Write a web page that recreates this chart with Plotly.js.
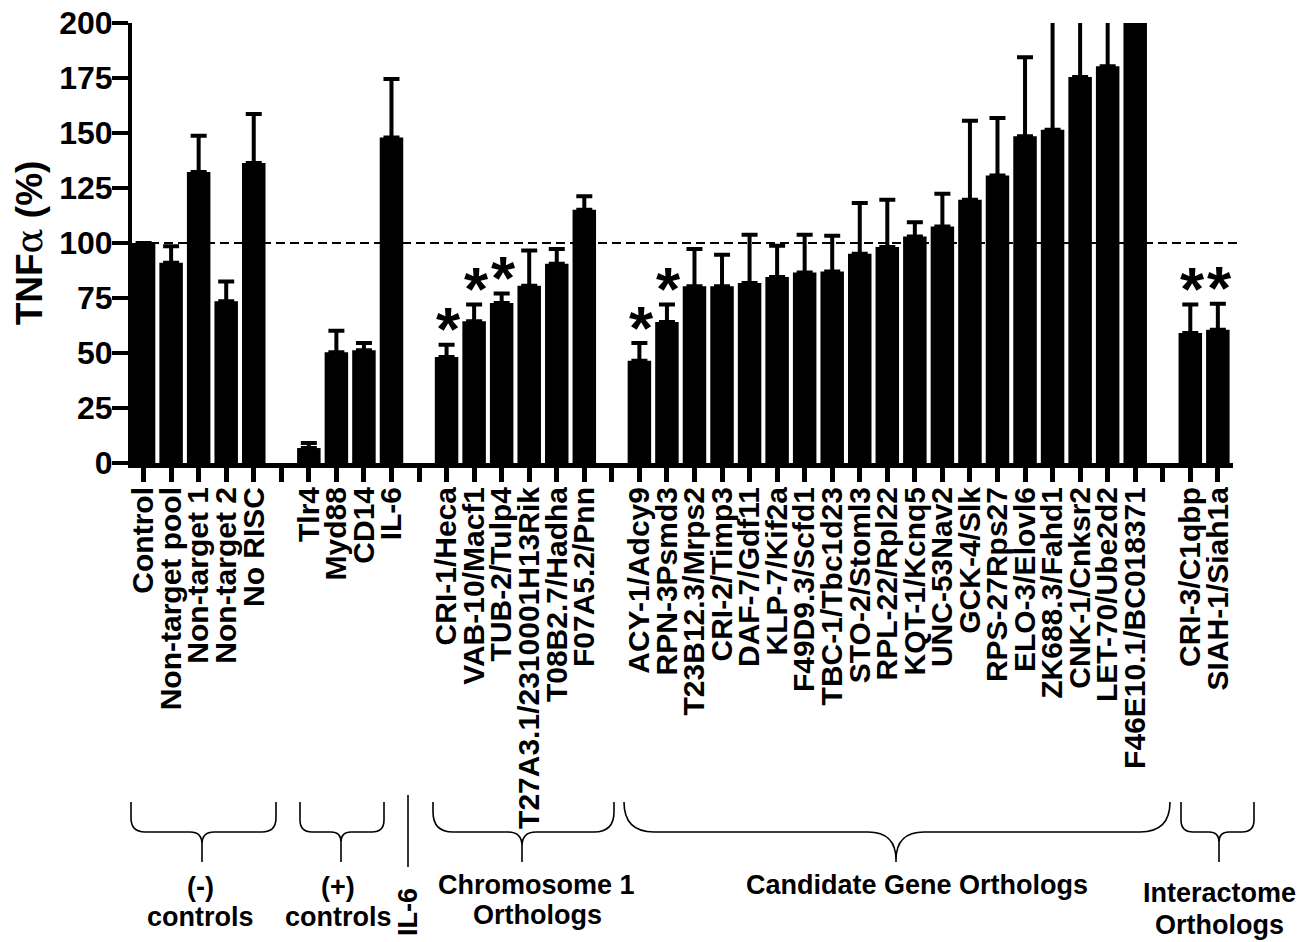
<!DOCTYPE html>
<html>
<head>
<meta charset="utf-8">
<script src="https://cdn.plot.ly/plotly-3.0.1.min.js"></script>
<style>html,body{margin:0;padding:0;background:#fff;}</style>
</head>
<body>
<div id="chart" style="width:1301px;height:942px;"></div>
<script>
// ---- data ----
const categories = ['Control','Non-target pool','Non-target 1','Non-target 2','No RISC','',
  'Tlr4','Myd88','CD14','IL-6','',
  'CRI-1/Heca','VAB-10/Macf1','TUB-2/Tulp4','T27A3.1/2310001H13Rik','T08B2.7/Hadha','F07A5.2/Pnn','',
  'ACY-1/Adcy9','RPN-3Psmd3','T23B12.3/Mrps2','CRI-2/Timp3','DAF-7/Gdf11','KLP-7/Kif2a','F49D9.3/Scfd1',
  'TBC-1/Tbc1d23','STO-2/Stoml3','RPL-22/Rpl22','KQT-1/Kcnq5','UNC-53Nav2','GCK-4/Slk','RPS-27Rps27',
  'ELO-3/Elovl6','ZK688.3/Fahd1','CNK-1/Cnksr2','LET-70/Ube2d2','F46E10.1/BC018371','',
  'CRI-3/C1qbp','SIAH-1/Siah1a'];
const tnfMean = [100, 91, 132.3, 73.5, 136.4, null,
  6.8, 50.3, 51.2, 148, null,
  48.2, 64.4, 72.7, 80.6, 90.6, 115.1, null,
  46.5, 64.1, 80.3, 80.3, 81.8, 84.5, 86.6,
  87.1, 95.1, 98.2, 103, 107.5, 119.7, 130.7,
  148.5, 151.5, 175.4, 180.3, 220, null,
  59.1, 60.6];
const tnfErr = [0, 7.5, 16.5, 9, 22.2, null,
  2.3, 9.8, 3.3, 26.5, null,
  5.6, 7.6, 4.3, 16, 6.7, 6.1, null,
  8, 7.9, 17, 14.4, 22, 14.3, 17.2,
  16.2, 23.1, 21.5, 6.4, 14.9, 35.9, 26.1,
  35.9, 60, 40, 40, 40, null,
  12.9, 11.8];
const significant = [false,false,false,false,false,false,
  false,false,false,false,false,
  true,true,true,false,false,false,false,
  true,true,false,false,false,false,false,
  false,false,false,false,false,false,false,
  false,false,false,false,false,false,
  true,true];
const yTicks = [0,25,50,75,100,125,150,175,200];
const referenceLevel = 100;
const groups = [
  {lines:['(-)','controls']},
  {lines:['(+)','controls']},
  {lines:['IL-6']},
  {lines:['Chromosome 1','Orthologs']},
  {lines:['Candidate Gene Orthologs']},
  {lines:['Interactome','Orthologs']}
];

// ---- layout geometry (pixels) ----
const L = 132, T = 23, W = 1101, H = 440;
const X = p => (p - L) / W;
const Y = p => (T + H - p) / H;
const FONT = 'Liberation Sans, Arial, sans-serif';

const idx = categories.map((_, i) => i);

const trace = {
  type: 'bar',
  x: idx,
  y: tnfMean,
  width: 0.853,
  marker: {color: '#000', line: {width: 0}},
  error_y: {
    type: 'data', symmetric: false,
    array: tnfErr,
    arrayminus: tnfErr.map(e => e === null ? null : 0),
    color: '#000', thickness: 4, width: 8
  },
  hoverinfo: 'x+y'
};

function bracePath(xa, xb, xc, r, rc) {
  const yt = 802, ym = 832, yb = 862;
  return `M${X(xa)},${Y(yt)} L${X(xa)},${Y(ym - r)} Q${X(xa)},${Y(ym)} ${X(xa + r)},${Y(ym)} ` +
    `L${X(xc - rc)},${Y(ym)} Q${X(xc)},${Y(ym)} ${X(xc)},${Y(ym + rc)} L${X(xc)},${Y(yb)} ` +
    `L${X(xc)},${Y(ym + rc)} Q${X(xc)},${Y(ym)} ${X(xc + rc)},${Y(ym)} ` +
    `L${X(xb - r)},${Y(ym)} Q${X(xb)},${Y(ym)} ${X(xb)},${Y(ym - r)} L${X(xb)},${Y(yt)}`;
}
const braceSpecs = [
  [131, 276, 202, 14, 12],
  [300, 384, 341, 12, 10],
  [433, 614, 522, 20, 14],
  [624, 1170, 896, 30, 28],
  [1181, 1254, 1219, 12, 10]
];
const shapes = [
  {type: 'line', xref: 'paper', yref: 'y', x0: X(150), x1: X(1242), y0: referenceLevel, y1: referenceLevel,
   line: {color: '#000', width: 2, dash: '9px,5px'}, layer: 'below'}
];
braceSpecs.forEach(b => shapes.push({
  type: 'path', xref: 'paper', yref: 'paper', path: bracePath(...b),
  line: {color: '#000', width: 1.6}, fillcolor: 'rgba(0,0,0,0)'
}));
shapes.push({type: 'line', xref: 'paper', yref: 'paper', x0: X(408), x1: X(408), y0: Y(795), y1: Y(867),
  line: {color: '#000', width: 1.6}});

const annotations = [];
idx.forEach(i => {
  if (significant[i]) {
    annotations.push({
      x: i, y: tnfMean[i] + tnfErr[i], xref: 'x', yref: 'y', text: '*', showarrow: false,
      font: {family: FONT, size: 62, weight: 'bold', color: '#000'},
      xanchor: 'center', yanchor: 'middle', yshift: 16, xshift: 2
    });
  }
});
const groupFont = {family: FONT, size: 27, weight: 'bold', color: '#000'};
const groupPos = [
  [[200, 887], [200, 917]],
  [[338, 887], [338, 917]],
  [[408, 912]],
  [[536, 885], [537, 915]],
  [[917, 885]],
  [[1219, 893], [1219, 925]]
];
groups.forEach((g, gi) => {
  g.lines.forEach((t, li) => {
    const p = groupPos[gi][li];
    annotations.push({
      xref: 'paper', yref: 'paper', x: X(p[0]), y: Y(p[1]), text: t, showarrow: false,
      xanchor: 'center', yanchor: 'middle', font: groupFont,
      textangle: t === 'IL-6' ? -90 : 0
    });
  });
});

const layout = {
  width: 1301, height: 942,
  margin: {l: L, r: 1301 - L - W, t: T, b: 942 - T - H, pad: 0},
  paper_bgcolor: '#fff', plot_bgcolor: '#fff',
  showlegend: false,
  font: {family: FONT, color: '#000'},
  xaxis: {
    range: [-0.42, 39.55], tickmode: 'array', tickvals: idx, ticktext: categories,
    tickangle: -90, ticks: 'outside', ticklen: 14, tickwidth: 5, tickcolor: '#000',
    showline: true, linewidth: 5, linecolor: '#000', showgrid: false, zeroline: false,
    tickfont: {family: FONT, size: 30, weight: 'bold', color: '#000'}, automargin: false,
    ticklabelstandoff: -7
  },
  yaxis: {
    range: [0, 200], tickmode: 'array', tickvals: yTicks, ticks: 'outside', ticklen: 16,
    tickwidth: 4, tickcolor: '#000', showline: true, linewidth: 4, linecolor: '#000',
    showgrid: false, zeroline: false, automargin: false,
    tickfont: {family: FONT, size: 32, weight: 'bold', color: '#000'},
    ticklabelstandoff: -7,
    title: {text: 'TNF<span style="font-family:DejaVu Serif;font-weight:normal">α</span> (%)',
            font: {family: FONT, size: 37, weight: 'bold', color: '#000'}, standoff: 6}
  },
  shapes: shapes,
  annotations: annotations
};

Plotly.newPlot('chart', [trace], layout, {displayModeBar: false, staticPlot: true});
</script>
</body>
</html>
